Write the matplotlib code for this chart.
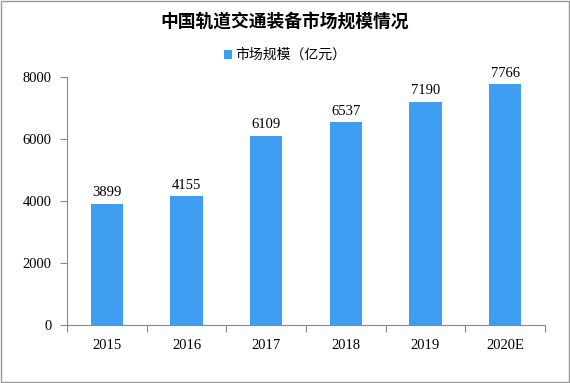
import matplotlib
matplotlib.use("Agg")
import matplotlib.pyplot as plt
from matplotlib.patches import Rectangle

categories = ["2015", "2016", "2017", "2018", "2019", "2020E"]
values = [3899, 4155, 6109, 6537, 7190, 7766]
yticks = [0, 2000, 4000, 6000, 8000]
title = "中国轨道交通装备市场规模情况"
legend_label = "市场规模（亿元）"

plt.rcParams['font.family'] = ['Noto Sans CJK SC', 'DejaVu Sans']
num_font = ['Liberation Serif', 'DejaVu Serif']
bar_color = "#3F9EF2"

fig = plt.figure(figsize=(5.70, 3.83), dpi=100)
ax = fig.add_axes([67/570, 58/383, 478/570, 248/383])

x = list(range(len(categories)))
bars = ax.bar(x, values, width=0.41, color=bar_color, label=legend_label, zorder=2)
for xi, v in zip(x, values):
    ax.text(xi, v + 150, str(v), ha="center", va="bottom", fontsize=10.5,
            family=num_font, color="#000000")

ax.set_xlim(-0.5, len(categories) - 0.5)
ax.set_ylim(0, 8000)
ax.set_yticks(yticks)
ax.set_yticklabels([str(t) for t in yticks], family=num_font, fontsize=10.5)
ax.set_xticks([i - 0.5 for i in range(len(categories) + 1)])
ax.set_xticklabels([])
ax.set_xticks(x, minor=True)
ax.set_xticklabels(categories, minor=True, family=num_font, fontsize=10.5)
ax.tick_params(axis="x", which="minor", length=0, pad=10)
ax.tick_params(axis="x", which="major", length=5, color="#888888", direction="out")
ax.tick_params(axis="y", length=5, color="#888888", direction="out", pad=6)
for s in ["top", "right"]:
    ax.spines[s].set_visible(False)
for s in ["left", "bottom"]:
    ax.spines[s].set_color("#888888")

fig.text(0.5, 1 - 22/383, title, ha="center", va="center", fontsize=12.8,
         fontweight="bold", color="#000000")
leg = fig.legend(handles=[bars], labels=[legend_label], loc="center",
                 bbox_to_anchor=(0.5, 1 - 55/383), frameon=False, fontsize=10,
                 handlelength=0.6, handleheight=0.6, handletextpad=0.2)

fig.patches.append(Rectangle((0.002, 0.003), 0.996, 0.994, transform=fig.transFigure,
                             fill=False, edgecolor="#999999", linewidth=1))

fig.savefig("out.png", dpi=100)
